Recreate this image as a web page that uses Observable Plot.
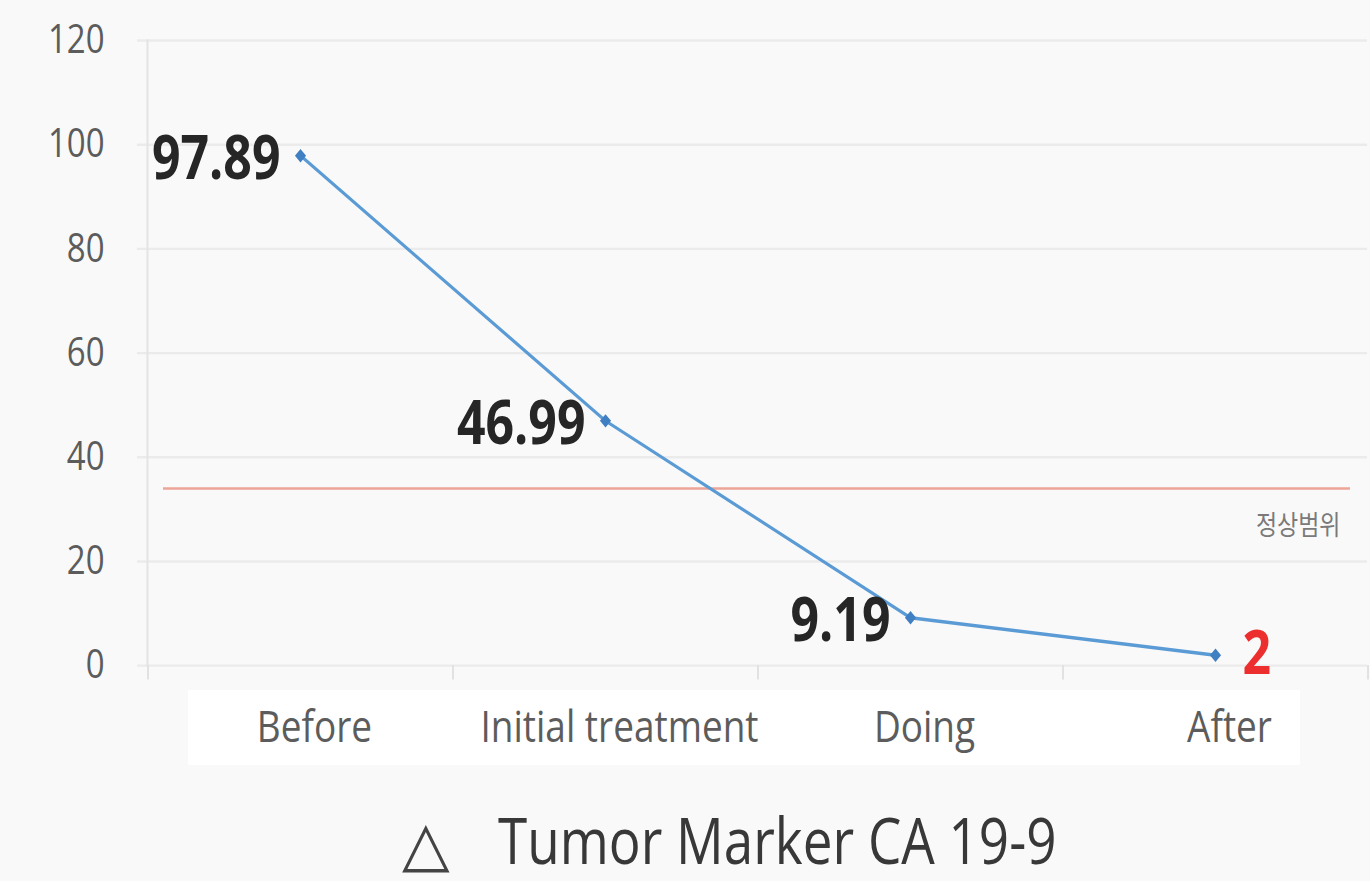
<!DOCTYPE html>
<html>
<head>
<meta charset="utf-8">
<script src="https://cdn.jsdelivr.net/npm/d3@7"></script>
<script src="https://cdn.jsdelivr.net/npm/@observablehq/plot@0.6"></script>
<style>
  html, body { margin: 0; padding: 0; background: #f9f9f9; }
  #wrap { position: relative; width: 1370px; height: 881px; background: #f9f9f9; font-family: "Open Sans", "Noto Sans CJK KR", sans-serif; }
  #box { position: absolute; left: 188px; top: 690px; width: 1112px; height: 75px; background: #ffffff; }
  #chart { position: absolute; left: 0; top: 0; transform: scaleY(1.2); transform-origin: 0 0; }
  .ttl { position: absolute; top: 805px; font-size: 53px; line-height: 1.1; color: #383838; transform: scaleY(1.2); transform-origin: 0 0; white-space: pre; }
  .tri { position: absolute; left: 402px; top: 816px; font-family: "DejaVu Sans", sans-serif; font-size: 62px; line-height: 0.9; color: #444; white-space: pre; }
</style>
</head>
<body>
<div id="wrap">
  <div id="box"></div>
  <div id="chart"></div>
  <div class="tri">△</div>
  <div class="ttl" style="left:498px;">Tumor Marker CA 19-9</div>
</div>
<script>
// ---- data ----
const categories = ["Before", "Initial treatment", "Doing", "After"];
const values = [97.89, 46.99, 9.19, 2];
const valueLabels = ["97.89", "46.99", "9.19", "2"];
const yTicks = [0, 20, 40, 60, 80, 100, 120];
const normalRangeValue = [34];
const normalRangeLabel = ["정상범위"];

const data = categories.map((c, i) => ({cat: c, value: values[i], label: valueLabels[i]}));

const W = 1370;
const H = 650;               // unscaled svg height (780 after the 1.2 vertical stretch)
const mL = 147, mR = 3, mT = 33.3, mB = 95.8;
const step = (W - mL - mR) / categories.length;

const plot = Plot.plot({
  width: W,
  height: H,
  marginLeft: mL,
  marginRight: mR,
  marginTop: mT,
  marginBottom: mB,
  style: {background: "transparent", fontFamily: "'Open Sans', 'Noto Sans CJK KR', sans-serif", overflow: "visible"},
  x: {type: "point", domain: categories, padding: 0.5, label: null},
  y: {domain: [0, 120], label: null},
  marks: [
    Plot.gridY(yTicks, {stroke: "#ebebeb", strokeOpacity: 1, strokeWidth: 2, insetLeft: -10}),
    Plot.frame({anchor: "left", stroke: "#e4e4e4", strokeWidth: 2}),
    Plot.axisY({ticks: yTicks, tickSize: 0, tickPadding: 43, fontSize: 33, color: "#5c5c5c", label: null}),
    Plot.axisX({tickSize: 0, tickPadding: 37, fontSize: 37, color: "#5c5c5c", label: null, dx: 14}),
    Plot.axisX({tickSize: 12, tickFormat: () => "", dx: -step / 2, stroke: "#e2e2e2", strokeWidth: 2, label: null}),
    Plot.axisX({ticks: [categories[categories.length - 1]], tickSize: 12, tickFormat: () => "", dx: step / 2, stroke: "#e2e2e2", strokeWidth: 2, label: null}),
    Plot.ruleY(normalRangeValue, {stroke: "#eca597", strokeWidth: 2, insetLeft: 16, insetRight: 17}),
    Plot.text(normalRangeLabel, {y: normalRangeValue, text: d => d, frameAnchor: "right", textAnchor: "end", dx: -27, dy: 31, fontSize: 23, fill: "#7a7a7a", fontFamily: "'Noto Sans CJK KR', sans-serif", letterSpacing: 4}),
    Plot.line(data, {x: "cat", y: "value", stroke: "#5b9bd5", strokeWidth: 2.8}),
    Plot.dot(data, {x: "cat", y: "value", symbol: "diamond2", r: 5, fill: "#3f7fc2", stroke: "none"}),
    Plot.text(data.slice(0, 3), {x: "cat", y: "value", text: "label", textAnchor: "end", dx: -20, dy: 3.5, fontSize: 50, fontWeight: "bold", fill: "#262626"}),
    Plot.text(data.slice(3), {x: "cat", y: "value", text: "label", textAnchor: "start", dx: 27, dy: 0, fontSize: 50, fontWeight: "bold", fill: "#ec2e2e"})
  ]
});
document.getElementById("chart").appendChild(plot);
</script>
</body>
</html>
